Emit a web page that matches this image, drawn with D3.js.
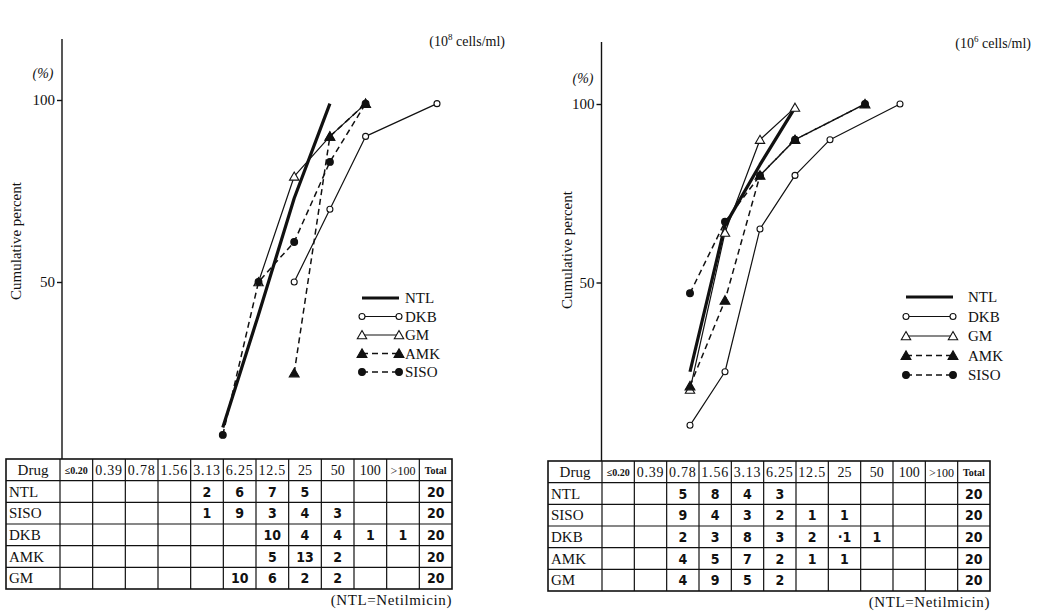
<!DOCTYPE html>
<html>
<head>
<meta charset="utf-8">
<script src="https://cdn.jsdelivr.net/npm/d3@7"></script>
<style>
  body { margin: 0; background: #fff; }
  text { font-family: "Liberation Serif", "DejaVu Serif", serif; fill: #111; }
  .num { font-family: "Liberation Sans Narrow", "DejaVu Sans Condensed", sans-serif; font-weight: bold; font-size: 14px; }
</style>
</head>
<body>
<script>
// concentration classes (10^6 cells/ml) and drugs
const concLabels = ["≤0.20", "0.39", "0.78", "1.56", "3.13", "6.25", "12.5", "25", "50", "100", ">100"];
const drugs = ["NTL", "SISO", "DKB", "AMK", "GM"];
const totals = [20, 20, 20, 20, 20];

// table counts, left panel
const ntlCountsA  = [null, null, null, null, 2, 6, 7, 5, null, null, null];
const sisoCountsA = [null, null, null, null, 1, 9, 3, 4, 3, null, null];
const dkbCountsA  = [null, null, null, null, null, null, 10, 4, 4, 1, 1];
const amkCountsA  = [null, null, null, null, null, null, 5, 13, 2, null, null];
const gmCountsA   = [null, null, null, null, null, 10, 6, 2, 2, null, null];

// table counts, right panel
const ntlCountsB  = [null, null, 5, 8, 4, 3, null, null, null, null, null];
const sisoCountsB = [null, null, 9, 4, 3, 2, 1, 1, null, null, null];
const dkbCountsB  = [null, null, 2, 3, 8, 3, 2, "·1", 1, null, null];
const amkCountsB  = [null, null, 4, 5, 7, 2, 1, 1, null, null, null];
const gmCountsB   = [null, null, 4, 9, 5, 2, null, null, null, null, null];

// cumulative percent curves
const ntlCurveA  = [["3.13", 10], ["6.25", 41], ["12.5", 73], ["25", 99]];
const dkbCurveA  = [["12.5", 50], ["25", 70], ["50", 90], [">100", 99]];
const gmCurveA   = [["6.25", 50], ["12.5", 79], ["25", 90], ["50", 99]];
const sisoCurveA = [["3.13", 8], ["6.25", 50], ["12.5", 61], ["25", 83], ["50", 99]];
const amkCurveA  = [["12.5", 25], ["25", 90], ["50", 99]];

const ntlCurveB  = [["0.78", 25], ["1.56", 66], ["3.13", 83], ["6.25", 99]];
const dkbCurveB  = [["0.78", 10], ["1.56", 25], ["3.13", 65], ["6.25", 80], ["12.5", 90], ["50", 100]];
const gmCurveB   = [["0.78", 20], ["1.56", 64], ["3.13", 90], ["6.25", 99]];
const amkCurveB  = [["0.78", 21], ["1.56", 45], ["3.13", 80], ["6.25", 90], ["25", 100]];
const sisoCurveB = [["0.78", 47], ["1.56", 67], ["3.13", 80], ["6.25", 90], ["25", 100]];

const svg = d3.select("body").append("svg").attr("width", 1044).attr("height", 613);

const styles = {
  NTL:  { width: 3.2, dash: null, marker: null },
  DKB:  { width: 1.2, dash: null, marker: "circle", fill: "#fff" },
  GM:   { width: 1.2, dash: null, marker: "triangle", fill: "#fff" },
  AMK:  { width: 1.5, dash: "6,4", marker: "triangle", fill: "#111" },
  SISO: { width: 1.5, dash: "6,4", marker: "circle", fill: "#111" },
};
const legendOrder = ["NTL", "DKB", "GM", "AMK", "SISO"];

function marker(g, name, x, y) {
  const s = styles[name];
  if (!s.marker) return;
  const filled = s.fill !== "#fff";
  if (s.marker === "circle") {
    g.append("circle").attr("cx", x).attr("cy", y).attr("r", filled ? 3.4 : 3)
      .attr("fill", s.fill).attr("stroke", "#111").attr("stroke-width", 1.1);
  } else {
    g.append("path").attr("d", d3.symbol(d3.symbolTriangle, filled ? 42 : 38)())
      .attr("transform", `translate(${x},${y + 1})`)
      .attr("fill", s.fill).attr("stroke", "#111").attr("stroke-width", 1.1);
  }
}

function drawPanel(p) {
  const g = svg.append("g");
  const x = d3.scalePoint().domain(concLabels).range(p.xRange);
  const y = d3.scaleLinear().domain([0, 100]).range(p.yRange);

  // y axis
  g.append("line").attr("x1", p.axisX).attr("x2", p.axisX)
    .attr("y1", p.axisTop).attr("y2", p.tableTop)
    .attr("stroke", "#111").attr("stroke-width", 1.4);
  const ax = g.append("g").attr("transform", `translate(${p.axisX},0)`)
    .call(d3.axisLeft(y).tickValues([50, 100]).tickSize(5).tickPadding(2));
  ax.select(".domain").remove();
  ax.selectAll("line").attr("stroke", "#111").attr("stroke-width", 1.4);
  ax.selectAll("text").attr("font-family", "Liberation Serif").attr("font-size", 15).attr("fill", "#111");

  g.append("text").attr("x", p.pctX).attr("y", p.pctY).attr("text-anchor", "middle")
    .attr("font-size", 14).attr("font-style", "italic").text("(%)");
  g.append("text").attr("transform", `translate(${p.titleX},${p.titleY}) rotate(-90)`)
    .attr("text-anchor", "middle").attr("font-size", p.titleSize).text("Cumulative percent");

  const unit = g.append("text").attr("x", p.unitX).attr("y", p.unitY)
    .attr("text-anchor", "end").attr("font-size", 14);
  unit.append("tspan").text("(10");
  unit.append("tspan").attr("dy", -6).attr("font-size", 9).text(p.unitExp);
  unit.append("tspan").attr("dy", 6).text(" cells/ml)");

  // curves
  const line = d3.line().x(d => x(d[0])).y(d => y(d[1]));
  p.curves.forEach(([name, pts]) => {
    const s = styles[name];
    g.append("path").attr("d", line(pts)).attr("fill", "none")
      .attr("stroke", "#111").attr("stroke-width", s.width)
      .attr("stroke-dasharray", s.dash).attr("stroke-linejoin", "round");
  });
  p.curves.forEach(([name, pts]) => pts.forEach(d => marker(g, name, x(d[0]), y(d[1]))));

  // legend
  legendOrder.forEach((name, i) => {
    const ly = p.legY + i * p.legStep;
    const s = styles[name];
    g.append("line").attr("x1", p.legX0).attr("x2", p.legX1).attr("y1", ly).attr("y2", ly)
      .attr("stroke", "#111").attr("stroke-width", s.width).attr("stroke-dasharray", s.dash);
    marker(g, name, p.legX0, ly);
    marker(g, name, p.legX1, ly);
    g.append("text").attr("x", p.legTextX).attr("y", ly + 5).attr("font-size", 15).text(name);
  });

  // table
  const cols = d3.scaleBand().domain([...concLabels, "Total"]).range([p.tableX + p.drugW, p.tableRight]);
  const rows = d3.scaleBand().domain(["head", ...drugs]).range([p.tableTop, p.tableBottom]);
  const t = g.append("g");
  t.append("rect").attr("x", p.tableX).attr("y", p.tableTop)
    .attr("width", p.tableRight - p.tableX).attr("height", p.tableBottom - p.tableTop)
    .attr("fill", "none").attr("stroke", "#111").attr("stroke-width", 1.6);
  cols.domain().forEach(c => {
    t.append("line").attr("x1", cols(c)).attr("x2", cols(c))
      .attr("y1", p.tableTop).attr("y2", p.tableBottom).attr("stroke", "#111").attr("stroke-width", 1.2);
  });
  rows.domain().slice(1).forEach(r => {
    t.append("line").attr("x1", p.tableX).attr("x2", p.tableRight)
      .attr("y1", rows(r)).attr("y2", rows(r)).attr("stroke", "#111").attr("stroke-width", 1.2);
  });
  const hy = rows("head") + rows.bandwidth() / 2 + 5;
  t.append("text").attr("x", p.tableX + p.drugW / 2).attr("y", hy).attr("text-anchor", "middle")
    .attr("font-size", 15).text("Drug");
  [...concLabels, "Total"].forEach(c => {
    const small = c === "≤0.20" || c === "Total";
    t.append("text").attr("x", cols(c) + cols.bandwidth() / 2).attr("y", small ? hy - 1 : hy)
      .attr("text-anchor", "middle")
      .attr("font-size", small ? 10 : (c === ">100" ? 12 : 14))
      .attr("font-weight", small ? "bold" : null)
      .attr("letter-spacing", c.length === 4 && c !== "Total" && c !== ">100" ? 0.8 : null)
      .text(c);
  });
  p.counts.forEach((vals, i) => {
    const ry = rows(drugs[i]) + rows.bandwidth() / 2 + 5;
    t.append("text").attr("x", p.tableX + 3).attr("y", ry).attr("font-size", 15).text(drugs[i]);
    vals.forEach((v, j) => {
      if (v === null) return;
      t.append("text").attr("class", "num").attr("text-anchor", "middle")
        .attr("x", cols(concLabels[j]) + cols.bandwidth() / 2).attr("y", ry).text(v);
    });
    t.append("text").attr("class", "num").attr("text-anchor", "middle")
      .attr("x", cols("Total") + cols.bandwidth() / 2).attr("y", ry).text(totals[i]);
  });
  g.append("text").attr("x", p.tableRight).attr("y", p.tableBottom + 16).attr("text-anchor", "end")
    .attr("font-size", 15).attr("letter-spacing", 0.6).text("(NTL=Netilmicin)");
}

drawPanel({
  xRange: [80, 437], yRange: [464, 100],
  axisX: 62, axisTop: 39,
  pctX: 43, pctY: 78, titleX: 21, titleY: 241, titleSize: 15,
  unitX: 505, unitY: 46, unitExp: "8",
  curves: [["NTL", ntlCurveA], ["DKB", dkbCurveA], ["GM", gmCurveA], ["SISO", sisoCurveA], ["AMK", amkCurveA]],
  legX0: 362, legX1: 399, legY: 298, legStep: 18.5, legTextX: 405,
  tableX: 6, drugW: 54, tableRight: 452, tableTop: 459, tableBottom: 589,
  counts: [ntlCountsA, sisoCountsA, dkbCountsA, amkCountsA, gmCountsA],
});

drawPanel({
  xRange: [620, 970], yRange: [461, 104],
  axisX: 601.5, axisTop: 42,
  pctX: 583, pctY: 83, titleX: 572, titleY: 250, titleSize: 15,
  unitX: 1031, unitY: 48, unitExp: "6",
  curves: [["NTL", ntlCurveB], ["DKB", dkbCurveB], ["GM", gmCurveB], ["AMK", amkCurveB], ["SISO", sisoCurveB]],
  legX0: 906, legX1: 953, legY: 297, legStep: 19.5, legTextX: 968,
  tableX: 548, drugW: 54, tableRight: 990, tableTop: 461, tableBottom: 591,
  counts: [ntlCountsB, sisoCountsB, dkbCountsB, amkCountsB, gmCountsB],
});
</script>
</body>
</html>
